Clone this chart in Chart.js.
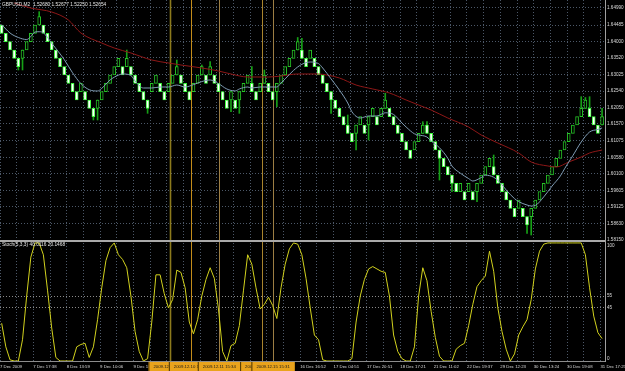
<!DOCTYPE html>
<html>
<head>
<meta charset="utf-8">
<script src="https://cdn.jsdelivr.net/npm/chart.js"></script>
<style>
  html, body { margin: 0; padding: 0; background: #000; }
  canvas { display: block; }
</style>
</head>
<body>
<canvas id="chart" width="625" height="371"></canvas>
<script>
// renko bricks, GBPUSD M2 (bar index 0..144)
const opens = [1.64488,1.64243,1.63997,1.63751,1.63506,1.63506,1.63751,1.63997,1.64243,1.64488,
  1.64488,1.64243,1.63997,1.63751,1.63506,1.63260,1.63014,1.62769,1.62523,1.62523,
  1.62523,1.62277,1.62032,1.62032,1.62277,1.62523,1.62769,1.63014,1.63260,1.63260,
  1.63260,1.63260,1.63014,1.62769,1.62523,1.62277,1.62523,1.62769,1.62769,1.62523,
  1.62523,1.62769,1.63014,1.63014,1.62769,1.62523,1.62523,1.62769,1.63014,1.63014,
  1.63014,1.63014,1.62769,1.62523,1.62277,1.62277,1.62277,1.62277,1.62523,1.62769,
  1.62769,1.62523,1.62523,1.62769,1.62769,1.62523,1.62523,1.62769,1.63014,1.63260,
  1.63506,1.63751,1.63751,1.63506,1.63506,1.63506,1.63260,1.63014,1.62769,1.62523,
  1.62277,1.62032,1.61786,1.61540,1.61295,1.61295,1.61540,1.61540,1.61540,1.61786,
  1.61786,1.61786,1.62032,1.62032,1.61786,1.61540,1.61295,1.61049,1.60803,1.60803,
  1.61049,1.61295,1.61540,1.61295,1.61049,1.60803,1.60558,1.60312,1.60066,1.59820,
  1.59575,1.59575,1.59575,1.59575,1.59575,1.59820,1.60066,1.60312,1.60312,1.60066,
  1.59820,1.59575,1.59329,1.59083,1.59083,1.59083,1.58838,1.58838,1.59083,1.59329,
  1.59575,1.59820,1.60066,1.60312,1.60558,1.60803,1.61049,1.61295,1.61540,1.61786,
  1.62032,1.62032,1.61786,1.61540,1.61540];
const closes = [1.64243,1.63997,1.63751,1.63506,1.63260,1.63751,1.63997,1.64243,1.64488,1.64734,
  1.64243,1.63997,1.63751,1.63506,1.63260,1.63014,1.62769,1.62523,1.62277,1.62769,
  1.62277,1.62032,1.61786,1.62277,1.62523,1.62769,1.63014,1.63260,1.63506,1.63014,
  1.63506,1.63014,1.62769,1.62523,1.62277,1.62032,1.62769,1.63014,1.62523,1.62277,
  1.62769,1.63014,1.63260,1.62769,1.62523,1.62277,1.62769,1.63014,1.63260,1.62769,
  1.63260,1.62769,1.62523,1.62277,1.62032,1.62523,1.62032,1.62523,1.62769,1.63014,
  1.62523,1.62277,1.62769,1.63014,1.62523,1.62277,1.62769,1.63014,1.63260,1.63506,
  1.63751,1.63997,1.63506,1.63260,1.63751,1.63260,1.63014,1.62769,1.62523,1.62277,
  1.62032,1.61786,1.61540,1.61295,1.61049,1.61540,1.61786,1.61295,1.61786,1.62032,
  1.61540,1.62032,1.62277,1.61786,1.61540,1.61295,1.61049,1.60803,1.60558,1.61049,
  1.61295,1.61540,1.61295,1.61049,1.60803,1.60558,1.60312,1.60066,1.59820,1.59575,
  1.59820,1.59329,1.59820,1.59329,1.59820,1.60066,1.60312,1.60558,1.60066,1.59820,
  1.59575,1.59329,1.59083,1.58838,1.59329,1.58838,1.58592,1.59083,1.59329,1.59575,
  1.59820,1.60066,1.60312,1.60558,1.60803,1.61049,1.61295,1.61540,1.61786,1.62032,
  1.62277,1.61786,1.61540,1.61295,1.61786];

// bars that have a visible shadow beyond the brick
const wickBars  = [4,5,9,22,23,30,35,42,48,50,55,57,60,63,66,71,72,79,83,85,88,92,101,102,105,108,114,118,126,127,139,140,141,144];
const wickHighs = [null,null,1.64881,null,null,1.63751,null,1.63456,1.63309,1.63407,null,null,1.63260,1.63162,null,1.64120,1.64095,null,1.61835,null,null,1.62474,1.61638,1.61638,null,null,null,1.60656,null,null,1.62375,1.62351,1.62375,1.62032];
const wickLows  = [1.63162,1.63162,null,1.61688,1.61688,null,1.61884,null,null,null,1.61933,1.61884,null,null,1.62081,null,null,1.61884,null,1.60803,1.61098,null,null,null,1.59919,1.59575,1.59280,null,1.58346,1.58297,null,null,null,null];

// moving averages
const fastMaBars = [0,2,4,6,7,8,9,10,12,15,17,19,21,23,24,26,28,29,31,32,34,36,38,40,42,44,46,48,50,52,54,56,57,59,60,62,66,67,68,70,72,74,76,77,79,81,83,84,86,88,90,92,94,96,97,99,100,102,103,105,107,108,110,112,113,115,116,118,120,121,123,124,126,127,128,130,132,134,135,137,139,141,143,144];
const fastMaVals = [1.64500,1.64252,1.64120,1.64060,1.64150,1.64282,1.64290,1.64260,1.63950,1.63470,1.63080,1.62760,1.62580,1.62543,1.62620,1.62867,1.63010,1.63044,1.63000,1.62840,1.62631,1.62631,1.62660,1.62660,1.62719,1.62660,1.62730,1.62820,1.62867,1.62760,1.62602,1.62543,1.62602,1.62660,1.62631,1.62660,1.62660,1.62778,1.62900,1.63150,1.63330,1.63397,1.63350,1.63221,1.62900,1.62572,1.62189,1.61930,1.61747,1.61806,1.61806,1.61900,1.61850,1.61600,1.61481,1.61280,1.61245,1.61186,1.61070,1.60870,1.60560,1.60330,1.60120,1.59960,1.59889,1.59990,1.60060,1.60000,1.59780,1.59624,1.59370,1.59280,1.59182,1.59152,1.59170,1.59420,1.59740,1.60040,1.60250,1.60640,1.61040,1.61334,1.61410,1.61452];
const slowMaBars = [3,7,12,16,19,24,27,31,36,40,43,48,52,55,59,64,67,71,76,78,81,85,89,93,97,100,103,107,112,115,119,124,127,131,133,136,139,141,144];
const slowMaVals = [1.65137,1.64989,1.64871,1.64636,1.64252,1.63958,1.63810,1.63663,1.63456,1.63368,1.63309,1.63221,1.63132,1.63044,1.62955,1.62955,1.62985,1.63044,1.63044,1.63014,1.62926,1.62719,1.62602,1.62484,1.62277,1.62130,1.61982,1.61747,1.61481,1.61245,1.61010,1.60715,1.60449,1.60332,1.60302,1.60449,1.60597,1.60715,1.60803];

// Stoch(5,3,3) main line, one value per bar
const stochVals = [32,12,1,0,0,18,55,88,100,100,
  90,60,28,3,0,0,0,0,12,14,
  15,3,12,35,62,85,96,100,90,86,
  79,55,25,8,0,2,33,73,73,57,
  45,52,77,75,62,33,23,35,55,69,
  79,70,44,8,0,13,15,30,60,90,
  82,62,44,48,54,47,36,62,82,95,
  100,99,90,70,45,22,18,1,0,0,
  0,0,0,0,2,33,55,69,78,80,
  78,76,75,55,22,8,2,0,0,12,
  55,79,68,42,20,4,0,0,0,10,
  13,15,30,48,63,68,72,93,76,45,
  25,10,0,6,22,29,35,52,78,93,
  99,100,100,100,100,100,100,100,100,100,
  90,62,38,24,19];

// axes
const priceTicks = [1.64990,1.64485,1.64000,1.63520,1.63025,1.62540,1.62050,1.61570,1.61075,1.60580,1.60100,1.59605,1.59125,1.58630,1.58150];
const stochLevels = [0, 45, 55, 100];
const timeLabels = ['7 Dec 2009','7 Dec 17:38','8 Dec 13:59','9 Dec 10:06','9 Dec 18:02','','','','',
  '16 Dec 16:52','17 Dec 04:51','17 Dec 20:51','18 Dec 17:21','21 Dec 11:02','22 Dec 19:37',
  '29 Dec 12:23','30 Dec 13:24','30 Dec 19:08','31 Dec 17:25'];

// vertical line objects
const vlineBars = [40.4, 45.3, 52.2, 62.4, 65.1];
const vlineLabels = ['2009.12.10 04:38','2009.12.10 12:17','2009.12.11 15:34','2009.12.15 05:10','2009.12.15 15:31'];
const vlineColors = ['#8c7a1c','#c48c1a','#9c7e44','#a8842e','#9c7e44'];

const headerText = 'GBPUSD,M2  1.52680 1.52677 1.52250 1.52654';
const stochText = 'Stoch(5,3,3) 40.0116 20.1468';

const FONT = 'Liberation Sans, Arial, sans-serif';
const gridColor = '#4c5868';
const labelColor = '#dadada';
const gridBars = Array.from({length: 37}, (_, k) => -0.4 + 4 * k);

const isUp = i => closes[i] > opens[i];

const mt4Decor = {
  id: 'mt4Decor',
  beforeDraw(chart) {
    const ctx = chart.ctx;
    ctx.save();
    ctx.fillStyle = '#000';
    ctx.fillRect(0, 0, chart.width, chart.height);
    ctx.restore();
  },
  beforeDatasetsDraw(chart) {
    const {ctx, chartArea, scales: {x}} = chart;
    ctx.save();
    vlineBars.forEach((b, k) => {
      const px = Math.round(x.getPixelForValue(b)) + 0.5;
      ctx.strokeStyle = vlineColors[k];
      ctx.lineWidth = k === 0 ? 1.6 : 1;
      ctx.beginPath();
      ctx.moveTo(px, chartArea.top);
      ctx.lineTo(px, chartArea.bottom);
      ctx.stroke();
    });
    ctx.restore();
  },
  afterDatasetsDraw(chart) {
    const {ctx, chartArea, scales: {y}} = chart;
    ctx.save();
    ctx.fillStyle = '#a9a9a9';
    ctx.fillRect(chartArea.left, y.bottom, chartArea.right - chartArea.left, 2);
    ctx.restore();
  },
  afterDraw(chart) {
    const {ctx, chartArea, scales: {x, y}} = chart;
    ctx.save();
    ctx.font = '4.8px ' + FONT;
    ctx.fillStyle = '#e6e6e6';
    ctx.textBaseline = 'middle';
    ctx.textAlign = 'left';
    ctx.fillText(headerText, 2, 5);
    ctx.fillText(stochText, 2, y.bottom + 5);

    // time boxes of the vertical lines on the time scale
    ctx.font = '4.3px ' + FONT;
    ctx.textAlign = 'center';
    const top = chartArea.bottom + 1;
    vlineBars.forEach((b, k) => {
      const px = x.getPixelForValue(b);
      const w = ctx.measureText(vlineLabels[k]).width + 10;
      ctx.fillStyle = '#e9a31c';
      ctx.fillRect(px - w / 2, top, w, 9);
      ctx.fillStyle = '#4a3300';
      ctx.fillRect(px - w / 2, top, 1, 9);
      ctx.fillStyle = '#1a1a1a';
      ctx.fillText(vlineLabels[k], px, top + 4.8);
    });
    ctx.restore();
  }
};

new Chart(document.getElementById('chart').getContext('2d'), {
  type: 'bar',
  data: {
    datasets: [
      {
        type: 'bar',
        label: 'shadows',
        order: 4,
        grouped: false,
        barThickness: 1,
        backgroundColor: '#16a016',
        borderWidth: 0,
        data: wickBars.map((b, k) => ({
          x: b,
          y: [wickLows[k] ?? Math.min(opens[b], closes[b]), wickHighs[k] ?? Math.max(opens[b], closes[b])]
        }))
      },
      {
        type: 'bar',
        label: 'bricks',
        order: 3,
        grouped: false,
        barThickness: 3,
        borderWidth: 1,
        borderSkipped: false,
        backgroundColor: ctx => isUp(ctx.dataIndex) ? '#000000' : '#ffffff',
        borderColor: ctx => isUp(ctx.dataIndex) ? '#26c226' : '#3cff3c',
        data: opens.map((o, i) => ({x: i, y: [o, closes[i]]}))
      },
      {
        type: 'line',
        label: 'slow MA',
        order: 2,
        borderColor: '#8e1717',
        borderWidth: 1,
        pointRadius: 0,
        cubicInterpolationMode: 'monotone',
        data: slowMaBars.map((b, k) => ({x: b, y: slowMaVals[k]}))
      },
      {
        type: 'line',
        label: 'fast MA',
        order: 1,
        borderColor: '#7f9cb4',
        borderWidth: 1,
        pointRadius: 0,
        cubicInterpolationMode: 'monotone',
        data: fastMaBars.map((b, k) => ({x: b, y: fastMaVals[k]}))
      },
      {
        type: 'line',
        label: 'Stoch',
        order: 0,
        yAxisID: 'y2',
        borderColor: '#d2d21e',
        borderWidth: 1,
        pointRadius: 0,
        tension: 0,
        data: stochVals.map((v, i) => ({x: i, y: v}))
      }
    ]
  },
  options: {
    responsive: false,
    devicePixelRatio: 1,
    animation: false,
    events: [],
    layout: { padding: 0 },
    plugins: { legend: { display: false }, tooltip: { enabled: false } },
    scales: {
      x: {
        type: 'linear',
        min: -0.4,
        max: 144.7,
        offset: false,
        grid: { color: gridColor, offset: false, drawTicks: false },
        border: { display: true, color: '#8c8c8c', dash: [1, 2] },
        ticks: {
          autoSkip: false, maxRotation: 0, minRotation: 0, align: 'start', padding: 3,
          color: labelColor, font: { family: FONT, size: 4.3 },
          callback: (v, i) => i % 2 === 0 ? timeLabels[i / 2] : ''
        },
        afterBuildTicks: s => { s.ticks = gridBars.map(v => ({ value: v })); },
        afterFit: s => { s.height = 10; s.paddingLeft = 0; s.paddingRight = 0; }
      },
      y: {
        position: 'right',
        stack: 'panels',
        stackWeight: 240,
        min: 1.58150,
        max: 1.652252,
        grid: { color: gridColor, drawTicks: false },
        border: { display: true, color: '#a0a0a0', dash: [1, 2] },
        ticks: {
          autoSkip: false, padding: 2, color: labelColor, font: { family: FONT, size: 4.6 },
          callback: v => v.toFixed(5)
        },
        afterBuildTicks: s => { s.ticks = priceTicks.map(v => ({ value: v })); },
        afterFit: s => { s.width = 20; s.paddingTop = 0; s.paddingBottom = 0; }
      },
      y2: {
        position: 'right',
        stack: 'panels',
        stackWeight: 121,
        min: 0,
        max: 102.5,
        grid: {
          drawTicks: false,
          color: ctx => (ctx.tick && (ctx.tick.value === 45 || ctx.tick.value === 55)) ? '#8a8a8a' : 'rgba(0,0,0,0)'
        },
        border: { display: true, color: '#a0a0a0', dash: [1, 2] },
        ticks: {
          autoSkip: false, padding: 2, color: labelColor, font: { family: FONT, size: 4.6 },
          callback: v => v === 100 ? ['', '100'] : v === 0 ? ['0', ''] : String(v)
        },
        afterBuildTicks: s => { s.ticks = stochLevels.map(v => ({ value: v })); },
        afterFit: s => { s.width = 20; s.paddingTop = 0; s.paddingBottom = 0; }
      }
    }
  },
  plugins: [mt4Decor]
});
</script>
</body>
</html>
